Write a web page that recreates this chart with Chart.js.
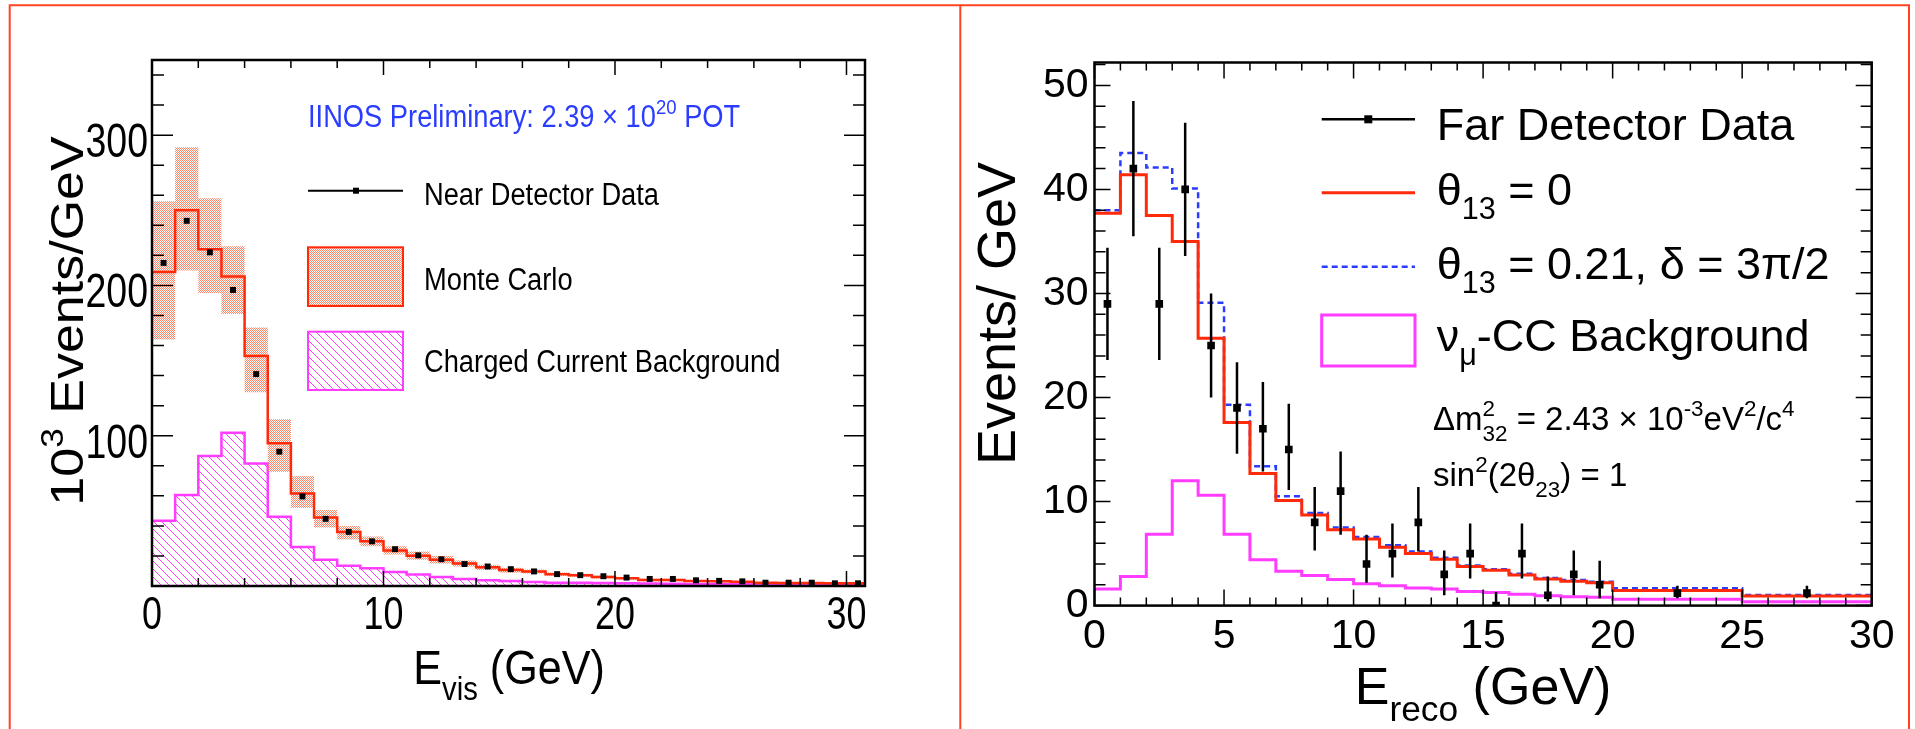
<!DOCTYPE html>
<html>
<head>
<meta charset="utf-8">
<title>MINOS near / far detector spectra</title>
<script src="https://cdn.jsdelivr.net/npm/chart.js@4.4.1/dist/chart.umd.min.js"></script>
<style>
  html, body { margin: 0; padding: 0; background: #fff; }
  body { width: 1915px; height: 729px; position: relative; overflow: hidden; }
  canvas { position: absolute; top: 0; }
</style>
</head>
<body>
<canvas id="nearChart" width="960" height="729" style="left:0"></canvas>
<canvas id="farChart" width="955" height="729" style="left:960px"></canvas>
<canvas id="frame" width="1915" height="729" style="left:0;pointer-events:none"></canvas>
<script>
// ---------- near detector (left panel) ----------
const ndEdges = [0, 1, 2, 3, 4, 5, 6, 7, 8, 9, 10, 11, 12, 13, 14, 15, 16, 17, 18, 19, 20,
                 21, 22, 23, 24, 25, 26, 27, 28, 29, 30, 31];
const ndData = [215, 243, 222, 197, 141, 89.4, 59.6, 44.7, 36, 29.7, 24.5, 20.4, 17.8, 14.6, 13, 11.2,
                9.7, 7.9, 7.2, 6.5, 5.6, 4.7, 4.7, 3.8, 3.4, 3.1, 2.2, 2.2, 2.2, 1.8, 1.8];
const ndMC = [209, 250, 224, 206, 153, 95, 61.6, 45.6, 36, 29.7, 23.6, 20.2, 17.5, 15, 12.4, 10.6,
              9.7, 7.9, 7.2, 6, 5.2, 4, 4, 3.4, 3.1, 2.9, 2.2, 2, 2, 1.8, 1.8];
const ndMCHigh = [256, 292, 258, 226, 172, 111, 73, 50.5, 40, 33, 26.5, 23, 20, 17, 14.2, 12.2,
                  11, 9, 8.2, 7, 6, 4.8, 4.8, 4, 3.6, 3.4, 2.6, 2.4, 2.4, 2.1, 2.1];
const ndMCLow = [164, 210, 195, 181, 129, 76, 52, 39, 31, 26.5, 21, 17.5, 15, 13, 10.6, 9,
                 8.4, 6.8, 6.2, 5, 4.4, 3.2, 3.2, 2.8, 2.6, 2.4, 1.8, 1.6, 1.6, 1.5, 1.5];
const ndCC = [43.5, 60.5, 86.5, 102, 81.5, 46, 26, 17.5, 13.5, 11.8, 9.3, 7.6, 6, 4.7, 3.8, 3.4,
              2.7, 2.2, 2.2, 2, 1.8, 1.6, 1.5, 1.4, 1.3, 1.2, 1.1, 1, 0.9, 0.8, 0.8];
const ndXTicks = [0, 10, 20, 30];
const ndYTicks = [100, 200, 300];

// ---------- far detector (right panel) ----------
const fdEdges = [0, 1, 2, 3, 4, 5, 6, 7, 8, 9, 10, 11, 12, 13, 14, 15, 16, 17, 18, 19, 20, 25, 30];
const fdCenters = [0.5, 1.5, 2.5, 3.5, 4.5, 5.5, 6.5, 7.5, 8.5, 9.5, 10.5, 11.5, 12.5, 13.5, 14.5,
                   15.5, 16.5, 17.5, 18.5, 19.5, 22.5, 27.5];
const fdData = [29, 42, 29, 40, 25, 19, 17, 15, 8, 11, 4, 5, 8, 3, 5, 0, 5, 1, 3, 2, 1.2, 1.2];
const fdErrHigh = [34.4, 48.5, 34.4, 46.4, 30, 23.4, 21.5, 19.4, 11.4, 14.8, 6.8, 7.9, 11.4, 5.3,
                   7.9, 1.3, 7.9, 2.8, 5.3, 4.3, 1.9, 1.9];
const fdErrLow = [23.6, 35.5, 23.6, 33.6, 20, 14.6, 12.9, 11.1, 5.3, 6.8, 2.2, 2.7, 5.2, 1.0,
                  2.6, 0, 2.6, 0.4, 1.0, 0.7, 0.7, 0.7];
const fdTheta0 = [37.7, 41.4, 37.5, 35.0, 25.7, 17.6, 12.7, 10.1, 8.7, 7.3, 6.4, 5.6, 5.0, 4.45,
                  3.75, 3.4, 2.95, 2.55, 2.35, 2.2, 1.45, 0.92];
const fdTheta21 = [38.0, 43.5, 42.1, 40.1, 29.1, 19.3, 13.4, 10.5, 8.9, 7.5, 6.6, 5.8, 5.2, 4.6,
                   3.85, 3.5, 3.05, 2.65, 2.45, 2.3, 1.66, 1.02];
const fdCC = [1.6, 2.8, 6.85, 12.0, 10.6, 6.85, 4.4, 3.3, 2.9, 2.5, 2.1, 1.9, 1.7, 1.6, 1.35, 1.25,
              1.1, 0.95, 0.85, 0.8, 0.62, 0.37];
const fdXTicks = [0, 5, 10, 15, 20, 25, 30];
const fdYTicks = [0, 10, 20, 30, 40, 50];

const SANS = "'Liberation Sans', Arial, Helvetica, sans-serif";
const RED = '#ff2a0a';
const BLUE = '#2a3cff';
const MAGENTA = '#ff3cff';

// histogram outline: each bin gives a flat segment from its low edge to its high edge
function histPoints(edges, vals) {
  const pts = [];
  vals.forEach((v, i) => { pts.push({ x: edges[i], y: v }, { x: edges[i + 1], y: v }); });
  return pts;
}

function makeHatch(color) {
  const c = document.createElement('canvas');
  c.width = 8; c.height = 8;
  const g = c.getContext('2d');
  g.strokeStyle = color; g.lineWidth = 1;
  g.beginPath();
  g.moveTo(0, 0); g.lineTo(8, 8);
  g.moveTo(-1, 7); g.lineTo(1, 9);
  g.moveTo(7, -1); g.lineTo(9, 1);
  g.stroke();
  return g.createPattern(c, 'repeat');
}

function makeStipple(color) {
  const c = document.createElement('canvas');
  c.width = 2; c.height = 2;
  const g = c.getContext('2d');
  g.fillStyle = color;
  g.fillRect(0, 0, 1, 1);
  g.fillRect(1, 1, 1, 1);
  return g.createPattern(c, 'repeat');
}

// tiny latex-ish text: _{..} subscript, ^{..} superscript
function richParts(str) {
  const parts = [], re = /([_^])\{([^}]*)\}/g;
  let last = 0, m;
  while ((m = re.exec(str))) {
    if (m.index > last) parts.push({ t: str.slice(last, m.index), k: '' });
    parts.push({ t: m[2], k: m[1] });
    last = re.lastIndex;
  }
  if (last < str.length) parts.push({ t: str.slice(last), k: '' });
  return parts;
}

function drawRich(ctx, str, x, y, size, opt = {}) {
  ctx.save();
  ctx.translate(x, y);
  if (opt.rotate) ctx.rotate(opt.rotate);
  ctx.scale(opt.sx || 1, opt.sy || 1);
  ctx.fillStyle = opt.color || '#000';
  ctx.textBaseline = 'alphabetic';
  ctx.textAlign = 'left';
  const items = [];
  let cx = 0, prev = null;
  for (const p of richParts(String(str))) {
    const s = p.k ? size * 0.68 : size;
    ctx.font = s + 'px ' + SANS;
    const w = ctx.measureText(p.t).width;
    let px = cx;
    if (p.k && prev && prev.k && prev.k !== p.k) {
      // stacked ^{..}_{..}: start at the same x as the previous script
      px = prev.x;
      cx = Math.max(prev.x + prev.w, px + w);
    } else {
      cx = px + w;
    }
    const dy = p.k === '_' ? size * 0.32 : p.k === '^' ? -size * 0.42 : 0;
    const it = { t: p.t, k: p.k, s, x: px, w, dy };
    items.push(it);
    prev = it;
  }
  const x0 = opt.align === 'center' ? -cx / 2 : opt.align === 'right' ? -cx : 0;
  for (const it of items) {
    ctx.font = it.s + 'px ' + SANS;
    ctx.fillText(it.t, x0 + it.x, it.dy);
  }
  ctx.restore();
}

// ROOT style frame: box plus inward ticks on all four sides
function rootFrame(cfg, drawText) {
  return {
    id: 'rootFrame',
    afterDraw(chart) {
      const { ctx, chartArea: a, scales: { x, y } } = chart;
      ctx.save();
      ctx.strokeStyle = '#000';
      ctx.lineWidth = 1.5;
      ctx.beginPath();
      for (let k = 0; k * cfg.xMinor <= x.max + 1e-9; k++) {
        const v = k * cfg.xMinor;
        const major = Math.abs(v / cfg.xMajor - Math.round(v / cfg.xMajor)) < 1e-6;
        const len = major ? cfg.xMajorLen : cfg.xMinorLen;
        const px = x.getPixelForValue(v);
        ctx.moveTo(px, a.bottom); ctx.lineTo(px, a.bottom - len);
        ctx.moveTo(px, a.top); ctx.lineTo(px, a.top + len);
      }
      for (let k = 0; k * cfg.yMinor <= y.max + 1e-9; k++) {
        const v = k * cfg.yMinor;
        const major = Math.abs(v / cfg.yMajor - Math.round(v / cfg.yMajor)) < 1e-6;
        const len = major ? cfg.yMajorLen : cfg.yMinorLen;
        const py = y.getPixelForValue(v);
        ctx.moveTo(a.left, py); ctx.lineTo(a.left + len, py);
        ctx.moveTo(a.right, py); ctx.lineTo(a.right - len, py);
      }
      ctx.stroke();
      ctx.lineWidth = 2.5;
      ctx.strokeRect(a.left, a.top, a.right - a.left, a.bottom - a.top);
      ctx.restore();
      drawText(ctx, chart);
    }
  };
}

const hatch = makeHatch(MAGENTA);
const stipple = makeStipple('#ff8468');

const baseOptions = (pad, xr, yr, xTicks, yTicks, tick) => ({
  responsive: false,
  animation: false,
  devicePixelRatio: 1,
  layout: { padding: pad },
  plugins: { legend: { display: false }, tooltip: { enabled: false } },
  scales: {
    x: {
      type: 'linear', min: xr[0], max: xr[1],
      grid: { display: false, drawTicks: false }, border: { display: false },
      afterBuildTicks: s => { s.ticks = xTicks.map(v => ({ value: v })); },
      afterFit: s => { s.height = 60; },
      ticks: { display: tick.show, font: { family: SANS, size: tick.size }, color: '#000',
               padding: tick.xPad, autoSkip: false, maxRotation: 0 }
    },
    y: {
      type: 'linear', min: yr[0], max: yr[1],
      grid: { display: false, drawTicks: false }, border: { display: false },
      afterBuildTicks: s => { s.ticks = yTicks.map(v => ({ value: v })); },
      afterFit: s => { s.width = 100; },
      ticks: { display: tick.show, font: { family: SANS, size: tick.size }, color: '#000',
               padding: tick.yPad, autoSkip: false }
    }
  }
});

// ---------- left chart ----------
new Chart(document.getElementById('nearChart'), {
  type: 'line',
  data: {
    datasets: [
      { label: 'Near Detector Data',
        data: ndData.map((v, i) => ({ x: (ndEdges[i] + ndEdges[i + 1]) / 2, y: v })),
        showLine: false, pointStyle: 'rect', pointRadius: 4.2, pointBorderWidth: 0,
        pointBackgroundColor: '#000', order: 0 },
      { label: 'Monte Carlo', data: histPoints(ndEdges, ndMC), borderColor: RED, borderWidth: 2.5,
        pointRadius: 0, fill: false, order: 1 },
      { label: 'MC high', data: histPoints(ndEdges, ndMCHigh), borderColor: 'transparent', borderWidth: 0,
        pointRadius: 0, fill: '+1', backgroundColor: stipple, order: 2 },
      { label: 'MC low', data: histPoints(ndEdges, ndMCLow), borderColor: 'transparent', borderWidth: 0,
        pointRadius: 0, fill: false, order: 3 },
      { label: 'Charged Current Background', data: histPoints(ndEdges, ndCC), borderColor: MAGENTA,
        borderWidth: 2.5, pointRadius: 0, fill: 'origin', backgroundColor: hatch, order: 4 }
    ]
  },
  options: baseOptions({ left: 52, right: 95, top: 60, bottom: 83 }, [0, 30.8], [0, 350], ndXTicks, ndYTicks,
    { show: false, size: 46, xPad: 4, yPad: 4 }),
  plugins: [rootFrame({ xMajor: 10, xMinor: 2, xMajorLen: 15, xMinorLen: 8,
                        yMajor: 100, yMinor: 20, yMajorLen: 21, yMinorLen: 12 }, (ctx, chart) => {
    const sx = 0.88;
    const { chartArea: a, scales: { x, y } } = chart;
    // squeezed tick labels, placed through the chart's scales
    ndXTicks.forEach(v => drawRich(ctx, v, x.getPixelForValue(v), a.bottom + 43, 46, { sx: 0.78, align: 'center' }));
    ndYTicks.forEach(v => drawRich(ctx, v, a.left - 4, y.getPixelForValue(v) + 22, 48, { sx: 0.78, align: 'right' }));

    drawRich(ctx, 'IINOS Preliminary: 2.39 × 10^{20} POT', 308, 126.7, 31, { sx, color: BLUE });
    ctx.save();
    ctx.strokeStyle = '#000'; ctx.lineWidth = 2;
    ctx.beginPath(); ctx.moveTo(308, 190.7); ctx.lineTo(403, 190.7); ctx.stroke();
    ctx.fillStyle = '#000'; ctx.fillRect(353, 187.7, 6, 6);
    ctx.fillStyle = stipple; ctx.fillRect(308, 247.3, 95, 58.7);
    ctx.strokeStyle = RED; ctx.strokeRect(308, 247.3, 95, 58.7);
    ctx.fillStyle = hatch; ctx.fillRect(308, 331.7, 95, 58.3);
    ctx.strokeStyle = MAGENTA; ctx.strokeRect(308, 331.7, 95, 58.3);
    ctx.restore();
    drawRich(ctx, 'Near Detector Data', 424, 205, 31, { sx });
    drawRich(ctx, 'Monte Carlo', 424, 290, 31, { sx });
    drawRich(ctx, 'Charged Current Background', 424, 371.7, 31, { sx });
    drawRich(ctx, '10^{3} Events/GeV', 82.5, 321, 52, { rotate: -Math.PI / 2, sy: 0.9, align: 'center' });
    drawRich(ctx, 'E_{vis} (GeV)', 509, 684, 49, { sx, align: 'center' });
  })]
});

// ---------- right chart ----------
const fdErrorBars = {
  id: 'fdErrorBars',
  afterDatasetsDraw(chart) {
    const { ctx, scales: { x, y } } = chart;
    ctx.save();
    ctx.strokeStyle = '#000'; ctx.lineWidth = 2.5;
    ctx.beginPath();
    fdCenters.forEach((c, i) => {
      const px = x.getPixelForValue(c);
      ctx.moveTo(px, y.getPixelForValue(fdErrLow[i]));
      ctx.lineTo(px, y.getPixelForValue(fdErrHigh[i]));
    });
    ctx.stroke();
    ctx.restore();
  }
};

new Chart(document.getElementById('farChart'), {
  type: 'line',
  data: {
    datasets: [
      { label: 'Far Detector Data', data: fdData.map((v, i) => ({ x: fdCenters[i], y: v })),
        showLine: false, pointStyle: 'rect', pointRadius: 5.4, pointBorderWidth: 0,
        pointBackgroundColor: '#000', order: 0 },
      { label: 'θ13 = 0', data: histPoints(fdEdges, fdTheta0), borderColor: RED, borderWidth: 3,
        pointRadius: 0, fill: false, order: 1 },
      { label: 'θ13 = 0.21, δ = 3π/2', data: histPoints(fdEdges, fdTheta21), borderColor: BLUE,
        borderWidth: 2.5, borderDash: [6, 4], pointRadius: 0, fill: false, order: 2 },
      { label: 'νμ-CC Background', data: histPoints(fdEdges, fdCC), borderColor: MAGENTA, borderWidth: 3,
        pointRadius: 0, fill: false, order: 3 }
    ]
  },
  options: baseOptions({ left: 34.5, right: 43.3, top: 62.5, bottom: 63.4 }, [0, 30], [0, 52.2], fdXTicks, fdYTicks,
    { show: true, size: 41, xPad: 6, yPad: 6 }),
  plugins: [fdErrorBars, rootFrame({ xMajor: 5, xMinor: 1, xMajorLen: 16, xMinorLen: 8,
                                     yMajor: 10, yMinor: 2, yMajorLen: 16, yMinorLen: 11 }, (ctx) => {
    ctx.save();
    ctx.lineWidth = 2.5;
    ctx.strokeStyle = '#000';
    ctx.beginPath(); ctx.moveTo(361.7, 119.3); ctx.lineTo(455, 119.3); ctx.stroke();
    ctx.fillStyle = '#000'; ctx.fillRect(404.3, 115.3, 8, 8);
    ctx.strokeStyle = RED; ctx.lineWidth = 3;
    ctx.beginPath(); ctx.moveTo(361.7, 192.7); ctx.lineTo(455, 192.7); ctx.stroke();
    ctx.strokeStyle = BLUE; ctx.lineWidth = 2.5; ctx.setLineDash([6, 4]);
    ctx.beginPath(); ctx.moveTo(361.7, 266.7); ctx.lineTo(455, 266.7); ctx.stroke();
    ctx.setLineDash([]);
    ctx.strokeStyle = MAGENTA; ctx.lineWidth = 3;
    ctx.strokeRect(361.7, 315, 93.3, 51);
    ctx.restore();
    drawRich(ctx, 'Far Detector Data', 476.7, 139.5, 45);
    drawRich(ctx, 'θ_{13} = 0', 476.7, 204.6, 45);
    drawRich(ctx, 'θ_{13} = 0.21, δ = 3π/2', 476.7, 279, 45);
    drawRich(ctx, 'ν_{μ}-CC Background', 476.7, 351, 45);
    drawRich(ctx, 'Δm^{2}_{32} = 2.43 × 10^{-3}eV^{2}/c^{4}', 473, 430, 33);
    drawRich(ctx, 'sin^{2}(2θ_{23}) = 1', 473, 486, 33);
    drawRich(ctx, 'Events/ GeV', 55, 313.5, 54, { rotate: -Math.PI / 2, align: 'center' });
    drawRich(ctx, 'E_{reco} (GeV)', 523, 704, 52, { align: 'center' });
  })]
});

// ---------- outer red frame ----------
(() => {
  const g = document.getElementById('frame').getContext('2d');
  g.strokeStyle = '#ff4422';
  g.lineWidth = 2;
  g.beginPath();
  g.moveTo(9.7, 729); g.lineTo(9.7, 5.3); g.lineTo(1909, 5.3); g.lineTo(1909, 729);
  g.moveTo(960.3, 5.3); g.lineTo(960.3, 729);
  g.stroke();
})();
</script>
</body>
</html>
